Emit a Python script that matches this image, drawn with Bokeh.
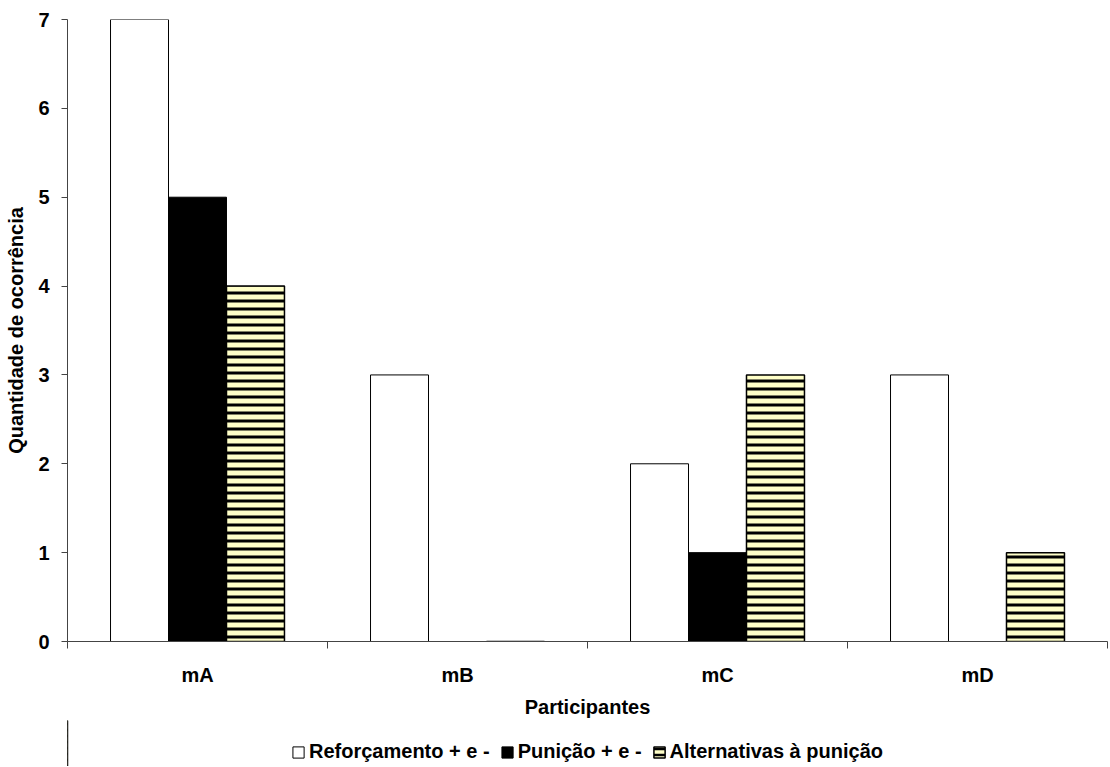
import numpy as np
from bokeh.plotting import figure
from bokeh.layouts import column
from bokeh.models import Range1d, FixedTicker, Legend, LegendItem
from bokeh.embed import file_html
from bokeh.resources import INLINE

categories = ["mA", "mB", "mC", "mD"]
reforco = [7, 3, 2, 3]
punicao = [5, 0, 1, 0]
alternativas = [4, 0, 3, 1]
series_names = ["Reforçamento + e -", "Punição + e -", "Alternativas à punição"]
y_ticks = [0, 1, 2, 3, 4, 5, 6, 7]

FONT = "Liberation Sans"
centers = np.arange(len(categories)) + 0.5
bw = 0.223

styles = [
    dict(fill_color="white", line_color="black", line_width=1),
    dict(fill_color="black", line_color="black", line_width=1),
    dict(fill_color="#FFFFC8", line_color="black", line_width=1.5,
         hatch_pattern="horizontal_line", hatch_color="black", hatch_scale=6, hatch_weight=2.5),
]

p = figure(frame_width=1040, frame_height=622, output_backend="svg", toolbar_location=None,
           x_range=Range1d(0, 4), y_range=Range1d(0, 7),
           min_border_left=67, min_border_top=19, min_border_right=1, min_border_bottom=78)
p.outline_line_color = None
p.xgrid.grid_line_color = None
p.ygrid.grid_line_color = None

bar_style_3 = dict(styles[2], hatch_scale=8, hatch_weight=3)
p.vbar(x=centers - bw, top=reforco, width=bw, **styles[0])
p.vbar(x=centers, top=punicao, width=bw, **styles[1])
p.vbar(x=centers + bw, top=alternativas, width=bw, **bar_style_3)

# x axis
xa = p.xaxis[0]
xa.ticker = FixedTicker(ticks=list(centers), minor_ticks=[0, 1, 2, 3, 4])
xa.major_label_overrides = {float(c): n for c, n in zip(centers, categories)}
xa.major_tick_out = 0
xa.major_tick_in = 0
xa.minor_tick_out = 7
xa.minor_tick_in = 0
xa.axis_line_color = "#444444"
xa.minor_tick_line_color = "#444444"
xa.major_label_text_font = FONT
xa.major_label_text_font_style = "bold"
xa.major_label_text_font_size = "20px"
xa.major_label_text_color = "black"
xa.major_label_standoff = 15
xa.axis_label = "Participantes"
xa.axis_label_text_font = FONT
xa.axis_label_text_font_style = "bold"
xa.axis_label_text_font_size = "20px"
xa.axis_label_text_color = "black"
xa.axis_label_standoff = 7

ya = p.yaxis[0]
ya.ticker = FixedTicker(ticks=y_ticks, minor_ticks=[])
ya.major_tick_out = 6
ya.major_tick_in = 0
ya.axis_line_color = "#444444"
ya.major_tick_line_color = "#444444"
ya.major_label_text_font = FONT
ya.major_label_text_font_style = "bold"
ya.major_label_text_font_size = "20px"
ya.major_label_text_color = "black"
ya.major_label_standoff = 12
ya.axis_label = "Quantidade de ocorrência"
ya.axis_label_text_font = FONT
ya.axis_label_text_font_style = "bold"
ya.axis_label_text_font_size = "20px"
ya.axis_label_text_color = "black"
ya.axis_label_standoff = 8

# legend strip below the chart (legend-only figure; its glyphs sit outside its visible range)
p2 = figure(frame_width=1040, frame_height=46, output_backend="svg", toolbar_location=None,
            x_range=Range1d(0, 1), y_range=Range1d(0, 1),
            x_axis_type=None, y_axis_type=None,
            min_border_left=67, min_border_top=0, min_border_right=1, min_border_bottom=0)
p2.outline_line_color = None
p2.xgrid.visible = False
p2.ygrid.visible = False
lr = [p2.vbar(x=[-10], top=[1], width=0.1, **s) for s in styles]

legend = Legend(items=[LegendItem(label=n, renderers=[r]) for n, r in zip(series_names, lr)],
                orientation="horizontal", location="bottom_center",
                glyph_width=14, glyph_height=14, label_standoff=4, spacing=10,
                label_text_font=FONT, label_text_font_style="bold", label_text_font_size="20px",
                label_text_color="black",
                border_line_color=None, background_fill_alpha=0, padding=2, margin=3)
p2.add_layout(legend, "center")

layout = column(p, p2, spacing=0)
open("out.html", "w").write(file_html(layout, INLINE))
